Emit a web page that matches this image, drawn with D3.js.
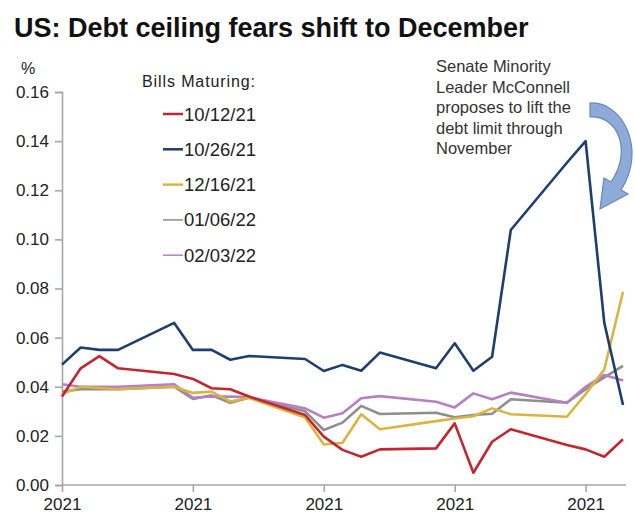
<!doctype html>
<html>
  <head>
    <script src="https://cdnjs.cloudflare.com/ajax/libs/d3/7.8.5/d3.min.js"></script>
    <style>
      body { margin: 0; background: #fff; }
      svg { font-family: "Liberation Sans", Arial, sans-serif; }
    </style>
  </head>
  <body>
    <svg width="635" height="521"></svg>
    <script>
        // trading days, Sep 7 - Oct 7 2021
        var dates = ["2021-09-07","2021-09-08","2021-09-09","2021-09-10","2021-09-13","2021-09-14","2021-09-15",
                     "2021-09-16","2021-09-17","2021-09-20","2021-09-21","2021-09-22","2021-09-23","2021-09-24",
                     "2021-09-27","2021-09-28","2021-09-29","2021-09-30","2021-10-01","2021-10-04","2021-10-05",
                     "2021-10-06","2021-10-07"];

        var bills = ["10/12/21", "10/26/21", "12/16/21", "01/06/22", "02/03/22"];
        var colours = ["#c3262f", "#1d3e6e", "#d8b53e", "#8e8e8e", "#b97fc3"];

        var bill1012 = [0.036,0.0475,0.0525,0.0475,0.0452,0.0432,0.0394,0.039,0.036,0.0285,0.0197,0.0143,
                        0.0115,0.0145,0.0149,0.0251,0.005,0.0176,0.0227,0.0163,0.0145,0.0115,0.0186];
        var bill1026 = [0.049,0.056,0.055,0.055,0.066,0.055,0.055,0.051,0.0525,0.0513,0.0464,0.0489,
                        0.0465,0.0539,0.0475,0.0577,0.0465,0.0522,0.1038,0.1312,0.140,0.066,0.0326];
        var bill1216 = [0.037,0.040,0.0395,0.039,0.040,0.0375,0.038,0.034,0.0355,0.0275,0.0165,0.0172,
                        0.0288,0.0227,0.026,0.0271,0.028,0.0312,0.0288,0.0278,0.037,0.047,0.0787];
        var bill0106 = [0.038,0.039,0.039,0.039,0.040,0.035,0.0365,0.0335,0.0355,0.030,0.0224,0.0254,
                        0.0322,0.0289,0.0294,0.0276,0.0285,0.029,0.0349,0.0335,0.039,0.0438,0.0485];
        var bill0203 = [0.041,0.040,0.040,0.040,0.041,0.0355,0.036,0.036,0.0357,0.0312,0.0274,0.0292,
                        0.0353,0.0362,0.0339,0.0316,0.0373,0.0349,0.0376,0.0335,0.040,0.0448,0.0425];

        var yTicks = [0, 0.02, 0.04, 0.06, 0.08, 0.10, 0.12, 0.14, 0.16];
        var xTicks = ["2021-09-07","2021-09-14","2021-09-21","2021-09-28","2021-10-05"];

        var noteLines = ["Senate Minority", "Leader McConnell", "proposes to lift the", "debt limit through", "November"];

        var parse = d3.timeParse("%Y-%m-%d");
        var series = [bill1012, bill1026, bill1216, bill0106, bill0203];

        var svg = d3.select("svg");

        var x = d3.scaleTime()
            .domain([parse(dates[0]), parse(dates[dates.length - 1])])
            .range([62, 623]);
        var y = d3.scaleLinear().domain([0, 0.16]).range([485, 92]);

        svg.append("text")
            .attr("x", 14).attr("y", 37)
            .attr("font-size", 27).attr("font-weight", "bold")
            .attr("fill", "#111")
            .text("US: Debt ceiling fears shift to December");

        svg.append("text")
            .attr("x", 28).attr("y", 74)
            .attr("text-anchor", "middle")
            .attr("font-size", 16).attr("fill", "#222")
            .text("%");

        var yAxis = svg.append("g")
            .attr("transform", "translate(62,0)")
            .call(d3.axisLeft(y).tickValues(yTicks).tickFormat(d3.format(".2f")).tickSizeOuter(0).tickSize(7).tickPadding(6));

        var xAxis = svg.append("g")
            .attr("transform", "translate(0,485)")
            .call(d3.axisBottom(x).tickValues(xTicks.map(parse)).tickFormat(d3.timeFormat("%Y")).tickSizeOuter(0).tickSize(7).tickPadding(6));

        [yAxis, xAxis].forEach(function(a) {
            a.select(".domain").attr("stroke", "#a6a6a6").attr("stroke-width", 1.6);
            a.selectAll(".tick line").attr("stroke", "#a6a6a6").attr("stroke-width", 1.6);
            a.selectAll(".tick text").attr("font-size", 17).attr("fill", "#222")
                .attr("font-family", "Liberation Sans, Arial, sans-serif");
        });
        xAxis.select(".domain").attr("d", "M62,0H626");

        var line = d3.line()
            .x(function(d, i) { return x(parse(dates[i])); })
            .y(function(d) { return y(d); });

        // draw order so the dark blue sits on top
        [3, 4, 2, 0, 1].forEach(function(k) {
            svg.append("path")
                .datum(series[k])
                .attr("d", line)
                .attr("fill", "none")
                .attr("stroke", colours[k])
                .attr("stroke-width", 2.6)
                .attr("stroke-linejoin", "round");
        });

        // legend
        svg.append("text")
            .attr("x", 142).attr("y", 87)
            .attr("font-size", 16).attr("fill", "#222")
            .attr("textLength", 113)
            .text("Bills Maturing:");

        var leg = svg.append("g").selectAll("g")
            .data(bills)
            .enter()
            .append("g")
                .attr("transform", (d, i) => "translate(0," + (114 + i * 35.3) + ")");
        leg.append("line")
            .attr("x1", 163).attr("x2", 183)
            .attr("stroke", (d, i) => colours[i])
            .attr("stroke-width", (d, i) => i == 3 || i == 4 ? 1.5 : 2.5);
        leg.append("text")
            .attr("x", 184).attr("y", 6.5)
            .attr("font-size", 18.5).attr("fill", "#222")
            .text(d => d);

        // annotation
        svg.append("g").selectAll("text")
            .data(noteLines)
            .enter()
            .append("text")
                .attr("x", 436)
                .attr("y", (d, i) => 72 + i * 20.5)
                .attr("font-size", 16.5).attr("fill", "#333")
                .text(d => d);

        svg.append("path")
            .attr("d", "M590,103 C623,101 647,150 621,190 L628,194 L600,209 L604,178 L611,182 C633,150 617,115 590,117 Z")
            .attr("fill", "#8eabd8")
            .attr("stroke", "#6688bb")
            .attr("stroke-width", 1.2);
    </script>
  </body>
</html>
